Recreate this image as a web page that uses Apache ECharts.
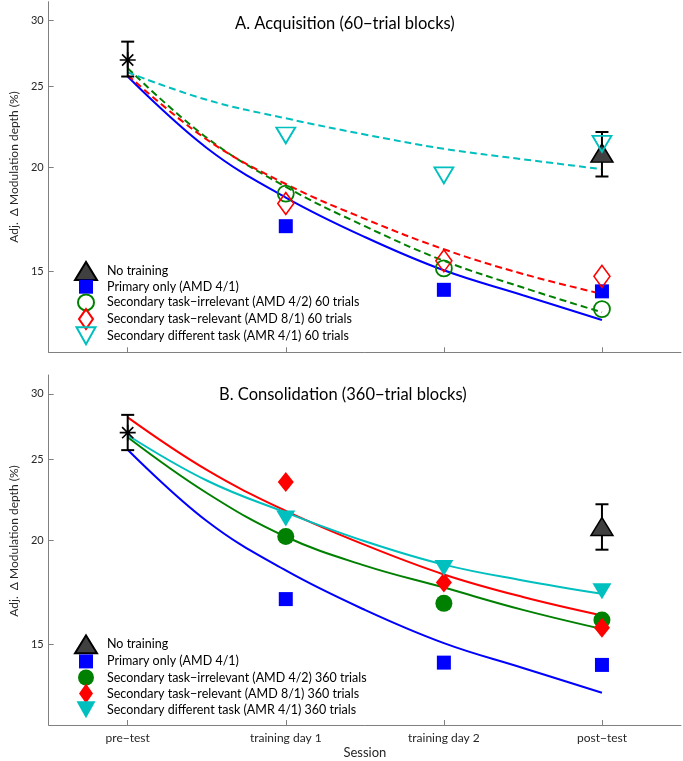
<!DOCTYPE html>
<html>
<head>
<meta charset="utf-8">
<script src="https://cdn.jsdelivr.net/npm/echarts@6/dist/echarts.min.js"></script>
<style>html,body{margin:0;padding:0;background:#fff}#chart{width:683px;height:761px}</style>
</head>
<body>
<div id="chart"></div>
<script>
// ---------- data ----------
const sessions = ['pre\u2212test', 'training day 1', 'training day 2', 'post\u2212test'];
const sessionX = [1, 2, 3, 4];
const trainedX = [2, 3, 4];
const yTicks = [15, 20, 25, 30];
const fitX = [1, 1.5, 2, 2.5, 3, 3.5, 4];

// Panel A: Acquisition (60-trial blocks)
const accTitle = 'A. Acquisition (60\u2212trial blocks)';
const accPreTest = 26.9;
const accPreTestErr = [25.7, 28.3];
const accNoTraining = 20.8;
const accNoTrainingErr = [19.5, 22.05];
const accPrimary = [17.0, 14.26, 14.2];
const accIrrelevant = [18.6, 15.13, 13.52];
const accRelevant = [18.1, 15.45, 14.8];
const accDifferent = [21.84, 19.56, 21.34];
const accFitPrimary = [25.7, 21.1, 18.4, 16.5, 15.05, 14.05, 13.12];
const accFitIrrelevant = [26.3, 21.7, 18.95, 17.0, 15.45, 14.35, 13.4];
const accFitRelevant = [25.8, 21.6, 19.1, 17.35, 15.95, 14.9, 14.1];
const accFitDifferent = [26.0, 24.1, 22.9, 21.9, 21.05, 20.45, 19.9];
const accNames = ['No training', 'Primary only (AMD 4/1)',
  'Secondary task\u2212irrelevant (AMD 4/2) 60 trials',
  'Secondary task\u2212relevant (AMD 8/1) 60 trials',
  'Secondary different task (AMR 4/1) 60 trials'];

// Panel B: Consolidation (360-trial blocks)
const conTitle = 'B. Consolidation (360\u2212trial blocks)';
const conPreTest = 26.94;
const conPreTestErr = [25.67, 28.3];
const conNoTraining = 20.78;
const conNoTrainingErr = [19.49, 22.1];
const conPrimary = [17.0, 14.26, 14.17];
const conIrrelevant = [20.22, 16.8, 16.04];
const conRelevant = [23.51, 17.8, 15.7];
const conDifferent = [21.25, 18.53, 17.37];
const conFitPrimary = [25.7, 21.1, 18.4, 16.5, 15.05, 14.05, 13.12];
const conFitIrrelevant = [26.6, 22.8, 20.2, 18.65, 17.55, 16.5, 15.65];
const conFitRelevant = [28.1, 24.3, 21.7, 19.75, 18.2, 17.1, 16.25];
const conFitDifferent = [26.75, 23.6, 21.6, 19.95, 18.7, 17.9, 17.25];
const conNames = ['No training', 'Primary only (AMD 4/1)',
  'Secondary task\u2212irrelevant (AMD 4/2) 360 trials',
  'Secondary task\u2212relevant (AMD 8/1) 360 trials',
  'Secondary different task (AMR 4/1) 360 trials'];

// ---------- styling ----------
const FONT = 'Lato';
const BLUE = '#0000ff', GREEN = '#008000', RED = '#ff0000', CYAN = '#00bfbf';
const AXIS = '#808080', TEXT = '#262626';
const TRI_DOWN = 'path://M0,0L20,0L10,17Z';
const ASTERISK = 'path://M0,10L20,10M10,0L10,20M3,3L17,17M17,3L3,17';
// legend icons drawn in a 22x22 box (the lone moves keep the box size)
const LEG_ICONS = [
  'path://M0,0M22,22M0,20L11,2L22,20Z',
  'path://M0,0M22,22M4,4L18,4L18,18L4,18Z',
  'path://M0,0M22,22M3,11A8,8,0,1,1,19,11A8,8,0,1,1,3,11Z',
  'path://M0,0M22,22M11,1L18,11L11,21L4,11Z',
  'path://M0,0M22,22M1.5,2.5L20.5,2.5L11,19.5Z'
];

const pairs = (xs, ys) => xs.map((x, i) => [x, ys[i]]);

function errorBar(ax, x, err) {
  return {
    type: 'custom', xAxisIndex: ax, yAxisIndex: ax, z: 3, silent: true,
    encode: { x: 0, y: [1, 2] },
    data: [[x, err[0], err[1]]],
    renderItem: (params, api) => {
      const xv = api.value(0);
      const lo = api.coord([xv, api.value(1)]);
      const hi = api.coord([xv, api.value(2)]);
      const hw = 6.5;
      const st = { stroke: '#000', lineWidth: 2 };
      return { type: 'group', children: [
        { type: 'line', shape: { x1: lo[0], y1: lo[1], x2: hi[0], y2: hi[1] }, style: st },
        { type: 'line', shape: { x1: lo[0] - hw, y1: lo[1], x2: lo[0] + hw, y2: lo[1] }, style: st },
        { type: 'line', shape: { x1: hi[0] - hw, y1: hi[1], x2: hi[0] + hw, y2: hi[1] }, style: st }
      ]};
    }
  };
}

function fitLine(ax, ys, color, dashed) {
  return {
    type: 'line', xAxisIndex: ax, yAxisIndex: ax, data: pairs(fitX, ys),
    smooth: 0.4, showSymbol: false, silent: true, z: 2,
    lineStyle: { color: color, width: 2, type: dashed ? [7, 4] : 'solid' }
  };
}

function markers(ax, name, xs, ys, symbol, size, fill, stroke, bw, z) {
  return {
    type: 'scatter', xAxisIndex: ax, yAxisIndex: ax, name: name,
    data: pairs(xs, ys), symbol: symbol, symbolSize: size, z: z || 4,
    itemStyle: { color: fill, borderColor: stroke, borderWidth: bw, opacity: 1 }
  };
}

function panelSeries(ax, d, open) {
  const s = [];
  s.push(fitLine(ax, d.fitPrimary, BLUE, false));
  s.push(fitLine(ax, d.fitIrrelevant, GREEN, open));
  s.push(fitLine(ax, d.fitRelevant, RED, open));
  s.push(fitLine(ax, d.fitDifferent, CYAN, open));
  s.push(errorBar(ax, 1, d.preErr));
  s.push(markers(ax, 'pre-test ' + ax, [1], [d.pre], ASTERISK, 16, 'rgba(0,0,0,0)', '#000', 1.6, 5));
  s.push(errorBar(ax, 4, d.noErr));
  s.push(markers(ax, d.names[0], [4], [d.no], 'triangle', [22, 18], '#404040', '#000', 1.5, 4));
  s.push(markers(ax, d.names[1], trainedX, d.primary, 'rect', 14, BLUE, BLUE, 0, 4));
  if (open) {
    s.push(markers(ax, d.names[2], trainedX, d.irrelevant, 'circle', 16, 'rgba(0,0,0,0)', GREEN, 1.8, 5));
    s.push(markers(ax, d.names[3], trainedX, d.relevant, 'diamond', [16, 22], 'rgba(0,0,0,0)', RED, 1.6, 5));
    s.push(markers(ax, d.names[4], trainedX, d.different, TRI_DOWN, [19, 16], 'rgba(0,0,0,0)', CYAN, 1.8, 5));
  } else {
    s.push(markers(ax, d.names[2], trainedX, d.irrelevant, 'circle', 17, GREEN, GREEN, 0, 5));
    s.push(markers(ax, d.names[3], trainedX, d.relevant, 'diamond', [16, 20], RED, RED, 0, 5));
    s.push(markers(ax, d.names[4], trainedX, d.different, TRI_DOWN, [19, 16], CYAN, CYAN, 0, 5));
  }
  return s;
}

const panelA = { pre: accPreTest, preErr: accPreTestErr, no: accNoTraining, noErr: accNoTrainingErr,
  primary: accPrimary, irrelevant: accIrrelevant, relevant: accRelevant, different: accDifferent,
  fitPrimary: accFitPrimary, fitIrrelevant: accFitIrrelevant, fitRelevant: accFitRelevant,
  fitDifferent: accFitDifferent, names: accNames };
const panelB = { pre: conPreTest, preErr: conPreTestErr, no: conNoTraining, noErr: conNoTrainingErr,
  primary: conPrimary, irrelevant: conIrrelevant, relevant: conRelevant, different: conDifferent,
  fitPrimary: conFitPrimary, fitIrrelevant: conFitIrrelevant, fitRelevant: conFitRelevant,
  fitDifferent: conFitDifferent, names: conNames };

function xAxis(ax, showLabels) {
  return {
    type: 'value', gridIndex: ax, min: 0.5, max: 4.5,
    axisLine: { show: true, lineStyle: { color: AXIS, width: 1 } },
    axisTick: { show: true, inside: true, length: 5, customValues: sessionX, lineStyle: { color: AXIS } },
    axisLabel: { show: showLabels, customValues: sessionX, margin: 7, color: TEXT, fontFamily: FONT, fontSize: 12,
      formatter: v => sessions[Math.round(v) - 1] || '' },
    splitLine: { show: false },
    name: showLabels ? 'Session' : '', nameLocation: 'middle', nameGap: 21,
    nameTextStyle: { color: TEXT, fontFamily: FONT, fontSize: 13 }
  };
}

function yAxis(ax, shift) {
  return {
    type: 'log', gridIndex: ax, min: 12, max: 31.6, logBase: 10,
    axisLine: { show: true, lineStyle: { color: AXIS, width: 1 } },
    axisTick: { show: true, inside: true, length: 5, customValues: yTicks, lineStyle: { color: AXIS } },
    axisLabel: { customValues: yTicks, margin: 5, color: TEXT, fontFamily: FONT, fontSize: 11 },
    splitLine: { show: false }, minorTick: { show: false },
    name: 'Adj.  \u0394 Modulation depth (%)', nameLocation: 'middle', nameGap: 27,
    nameTextStyle: { color: TEXT, fontFamily: FONT, fontSize: 12, padding: [0, 0, 0, shift] }
  };
}

function legend(names, top, gap) {
  return {
    orient: 'vertical', left: 69, top: top, itemWidth: 22, itemHeight: 22, itemGap: gap,
    selectedMode: false,
    data: names.map((n, i) => ({ name: n, icon: LEG_ICONS[i] })),
    formatter: n => '{g|}' + n,
    textStyle: { color: '#000', fontFamily: FONT, fontSize: 12.5, lineHeight: 13,
      rich: { g: { width: 5, lineHeight: 13 } } }
  };
}

const option = {
  animation: false,
  backgroundColor: '#fff',
  title: [
    { text: accTitle, left: 235, top: 15, padding: 0,
      textStyle: { fontFamily: FONT, fontSize: 16.5, fontWeight: 'normal', color: '#000', lineHeight: 18 } },
    { text: conTitle, left: 219, top: 386, padding: 0,
      textStyle: { fontFamily: FONT, fontSize: 16.5, fontWeight: 'normal', color: '#000', lineHeight: 18 } }
  ],
  grid: [
    { left: 41, width: 640, top: 1.7, height: 350.6 },
    { left: 41, width: 640, top: 375, height: 350 }
  ],
  legend: [legend(accNames, 254, -7.3), legend(conNames, 627.3, -5.9)],
  xAxis: [xAxis(0, false), xAxis(1, true)],
  yAxis: [yAxis(0, 20), yAxis(1, 18)],
  series: panelSeries(0, panelA, true).concat(panelSeries(1, panelB, false))
};

const chart = echarts.init(document.getElementById('chart'), null, { renderer: 'canvas' });
chart.setOption(option);
</script>
</body>
</html>
